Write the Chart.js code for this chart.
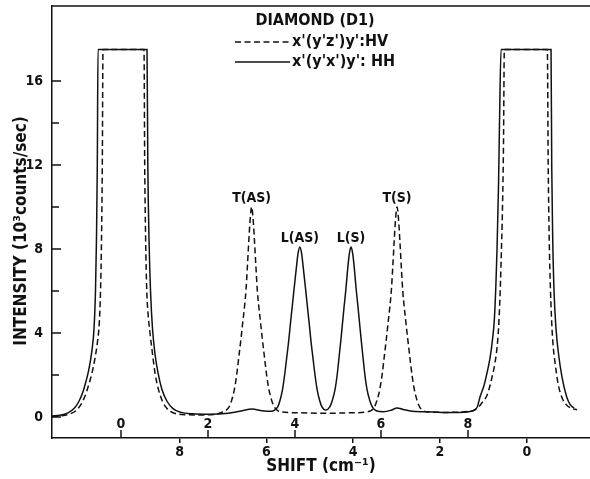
<!DOCTYPE html>
<html><head><meta charset="utf-8">
<script src="https://cdn.jsdelivr.net/npm/chart.js@4/dist/chart.umd.min.js"></script>
<style>html,body{margin:0;padding:0;background:#fff;}#wrap{width:590px;height:479px;}</style>
</head><body><div id="wrap"><canvas id="c" width="590" height="479"></canvas></div>
<script>
// ---- data (x = shift measured from the left laser line, cm^-1; y = 10^3 counts/sec) ----
const hvShift = [
  -1.590,-1.359,-1.175,-1.037,-0.922,-0.829,-0.749,-0.668,-0.599,-0.541,-0.500,-0.472,-0.449,-0.431,-0.415,
  0.530,0.546,0.567,0.594,0.628,0.668,0.726,0.783,0.864,0.956,1.060,1.198,1.406,1.820,2.166,
  2.31,2.41,2.49,2.55,2.61,2.665,2.715,2.76,2.805,2.845,2.88,2.91,2.945,2.975,3.01,
  3.045,3.075,3.11,3.14,3.175,3.215,3.26,3.305,3.355,3.41,3.47,3.53,3.61,3.71,
  4.1,4.7,5.3,
  5.66,5.76,5.84,5.90,5.96,6.015,6.065,6.11,6.155,6.195,6.23,6.26,6.295,6.325,6.36,
  6.395,6.425,6.46,6.49,6.525,6.565,6.61,6.655,6.705,6.76,6.82,6.88,6.96,7.06,
  7.5,8.0,8.111,8.249,8.341,8.426,8.502,8.571,8.618,8.664,8.698,8.728,8.756,8.790,
  8.813,8.832,9.823,9.843,9.866,9.896,9.931,9.965,10.0,10.069,10.154,10.253,10.369,10.507];
const hvIntensity = [
  0.02,0.06,0.15,0.3,0.6,1.0,1.5,2.1,2.8,3.6,4.5,6,8.5,12,17.5,
  17.5,12,8.5,6,4.8,4.0,3.0,2.1,1.3,0.75,0.4,0.2,0.12,0.1,0.12,
  0.22,0.3,0.48,0.8,1.29,2.0,2.86,3.65,4.5,5.25,6.05,7.1,8.4,9.4,10,
  9.4,8.4,7.1,6.05,5.25,4.5,3.65,2.86,2.0,1.29,0.8,0.48,0.3,0.24,
  0.2,0.18,0.2,
  0.24,0.3,0.48,0.8,1.29,2.0,2.86,3.65,4.5,5.25,6.05,7.1,8.4,9.4,10,
  9.4,8.4,7.1,6.05,5.25,4.5,3.65,2.86,2.0,1.29,0.8,0.48,0.3,0.24,
  0.22,0.26,0.3,0.5,0.75,1.0,1.5,2.1,2.6,3.3,4.2,5.5,7.3,10,
  13,17.5,17.5,12,8.5,6,4.2,3.2,2.6,1.6,0.95,0.6,0.42,0.35];
const hhShift = [
  -1.590,-1.406,-1.221,-1.083,-0.968,-0.876,-0.806,-0.737,-0.668,-0.622,-0.588,-0.565,-0.546,-0.530,
  0.599,0.618,0.645,0.680,0.726,0.783,0.853,0.945,1.060,1.198,1.382,1.636,2.051,2.465,
  2.788,3.018,3.249,3.45,3.61,3.665,3.72,3.77,3.82,3.865,3.906,3.945,3.985,4.04,
  4.08,4.12,4.16,4.20,4.255,4.295,4.334,4.375,4.42,4.47,4.52,4.575,4.63,4.72,
  4.81,4.87,4.93,4.98,5.025,5.065,5.105,5.14,5.18,5.225,5.263,5.30,5.337,5.375,
  5.42,5.46,5.495,5.535,5.575,5.62,5.67,5.73,5.79,5.88,6.05,6.22,6.36,6.50,
  6.70,7.0,7.4,7.8,8.1,8.203,8.272,8.364,8.433,8.502,8.560,8.601,8.636,8.664,
  8.698,8.721,8.756,9.908,9.924,9.947,9.977,10.023,10.081,10.161,10.270,10.346,10.438];
const hhIntensity = [
  0.05,0.08,0.2,0.4,0.75,1.2,1.7,2.3,3.2,4.2,6.0,8.5,12,17.5,
  17.5,12,8.5,6,4.2,3.0,2.1,1.3,0.75,0.4,0.22,0.15,0.13,0.18,
  0.3,0.38,0.3,0.27,0.48,0.8,1.29,2.0,2.86,3.65,4.5,5.25,6.05,7.1,
  7.8,8.1,7.8,7.1,6.05,5.25,4.5,3.65,2.86,2.0,1.29,0.8,0.48,0.33,
  0.48,0.8,1.29,2.0,2.86,3.65,4.5,5.25,6.05,7.1,7.8,8.1,7.8,7.1,
  6.05,5.25,4.5,3.65,2.86,2.0,1.29,0.8,0.48,0.3,0.25,0.32,0.43,0.36,
  0.27,0.25,0.22,0.22,0.3,0.45,0.95,1.5,2.1,2.8,3.7,4.6,6.2,8.0,
  11,14,17.5,17.5,12,8.5,6,4.2,3.0,1.9,0.95,0.6,0.42];
const seriesLabels = ["x'(y'z')y':HV", "x'(y'x')y': HH"];
const chartTitle = "DIAMOND (D1)";
const yLabelTicks = [0,4,8,12,16];
const yMinorTicks = [2,6,10,14];
const upperShiftTicks = [0,2,4,6,8];   // labels measured from the left line (inside plot)
const lowerShiftTicks = [8,6,4,2,0];   // labels measured from the right line (below axis)
const rightLineOffset = 9.35;
const peakNames = ["T(AS)","L(AS)","L(S)","T(S)"];
const peakShift = [3.01,4.12,5.30,6.36];
const peakIntensity = [10,8.1,8.1,10];

const ink = '#111';
const FAM = "'DejaVu Sans Condensed', 'DejaVu Sans', sans-serif";
const f = (size) => "bold " + size + "px " + FAM;

const decor = {
  id: 'decor',
  afterDraw(chart) {
    const {ctx, chartArea: a, scales: {x, y}} = chart;
    ctx.save();
    ctx.strokeStyle = ink; ctx.fillStyle = ink; ctx.lineWidth = 1.5;
    ctx.beginPath(); ctx.moveTo(a.left, a.top); ctx.lineTo(a.right, a.top); ctx.stroke();
    ctx.beginPath();
    yLabelTicks.forEach(v => { const py = Math.round(y.getPixelForValue(v)); ctx.moveTo(a.left, py); ctx.lineTo(a.left + 9, py); });
    yMinorTicks.forEach(v => { const py = Math.round(y.getPixelForValue(v)); ctx.moveTo(a.left, py); ctx.lineTo(a.left + 7, py); });
    ctx.stroke();
    ctx.font = f(14); ctx.textAlign = 'center'; ctx.textBaseline = 'alphabetic';
    upperShiftTicks.forEach(v => {
      const px = Math.round(x.getPixelForValue(v));
      ctx.beginPath(); ctx.moveTo(px, a.bottom); ctx.lineTo(px, a.bottom - 8); ctx.stroke();
      ctx.fillText(String(v), px, a.bottom - 10);
    });
    ctx.font = f(14);
    peakNames.forEach((n, i) => {
      ctx.fillText(n, x.getPixelForValue(peakShift[i]), y.getPixelForValue(peakIntensity[i]) - 5);
    });
    ctx.font = f(16);
    ctx.textBaseline = 'middle';
    ctx.fillText(chartTitle, 315, 21);
    const ds = chart.data.datasets;
    [42, 62].forEach((ly, i) => {
      ctx.save();
      ctx.lineWidth = 1.5;
      ctx.setLineDash(ds[i].borderDash || []);
      ctx.beginPath(); ctx.moveTo(235, ly); ctx.lineTo(290, ly); ctx.stroke();
      ctx.restore();
      ctx.textAlign = 'left';
      ctx.fillText(seriesLabels[i], 292, ly);
    });
    ctx.save();
    ctx.translate(22, 231); ctx.rotate(-Math.PI / 2);
    ctx.textAlign = 'center'; ctx.textBaseline = 'middle';
    ctx.font = f(17);
    ctx.fillText("INTENSITY (10³counts/sec)", 0, 0);
    ctx.restore();
    ctx.restore();
  }
};

new Chart(document.getElementById('c'), {
  type: 'line',
  data: {
    datasets: [
      { label: seriesLabels[0], data: hvShift.map((s, i) => ({x: s, y: hvIntensity[i]})),
        borderColor: ink, borderWidth: 1.5, borderDash: [6, 3.5], pointRadius: 0,
        cubicInterpolationMode: 'monotone', fill: false },
      { label: seriesLabels[1], data: hhShift.map((s, i) => ({x: s, y: hhIntensity[i]})),
        borderColor: ink, borderWidth: 1.5, pointRadius: 0,
        cubicInterpolationMode: 'monotone', fill: false }
    ]
  },
  options: {
    responsive: false, animation: false, devicePixelRatio: 1,
    layout: { padding: { top: 6, right: 0, left: 0, bottom: 0 } },
    plugins: { legend: { display: false }, tooltip: { enabled: false }, title: { display: false } },
    scales: {
      x: {
        type: 'linear', position: 'bottom', min: -1.59, max: 10.806,
        border: { display: true, color: ink, width: 1.5 },
        grid: { display: true, drawOnChartArea: false, drawTicks: true, tickLength: 5, color: ink, lineWidth: 1.5 },
        afterBuildTicks: ax => { ax.ticks = lowerShiftTicks.map(b => ({ value: rightLineOffset - b })); },
        ticks: { autoSkip: false, maxRotation: 0, padding: 1, color: ink, font: { family: FAM, size: 14, weight: 'bold' },
          callback: v => String(Math.round(rightLineOffset - v)) },
        title: { display: true, text: 'SHIFT (cm⁻¹)', color: ink, font: { family: FAM, size: 17, weight: 'bold' }, padding: { top: 0, bottom: 2 } },
        afterFit: s => { s.height = 41; s.paddingLeft = 0; s.paddingRight = 0; }
      },
      y: {
        type: 'linear', min: -1, max: 19.571,
        border: { display: true, color: ink, width: 1.5 },
        grid: { display: false, drawTicks: false },
        afterBuildTicks: ax => { ax.ticks = yLabelTicks.map(v => ({ value: v })); },
        ticks: { padding: 9, color: ink, font: { family: FAM, size: 14, weight: 'bold' } },
        afterFit: s => { s.width = 52; s.paddingTop = 0; s.paddingBottom = 0; }
      }
    }
  },
  plugins: [decor]
});
</script></body></html>
